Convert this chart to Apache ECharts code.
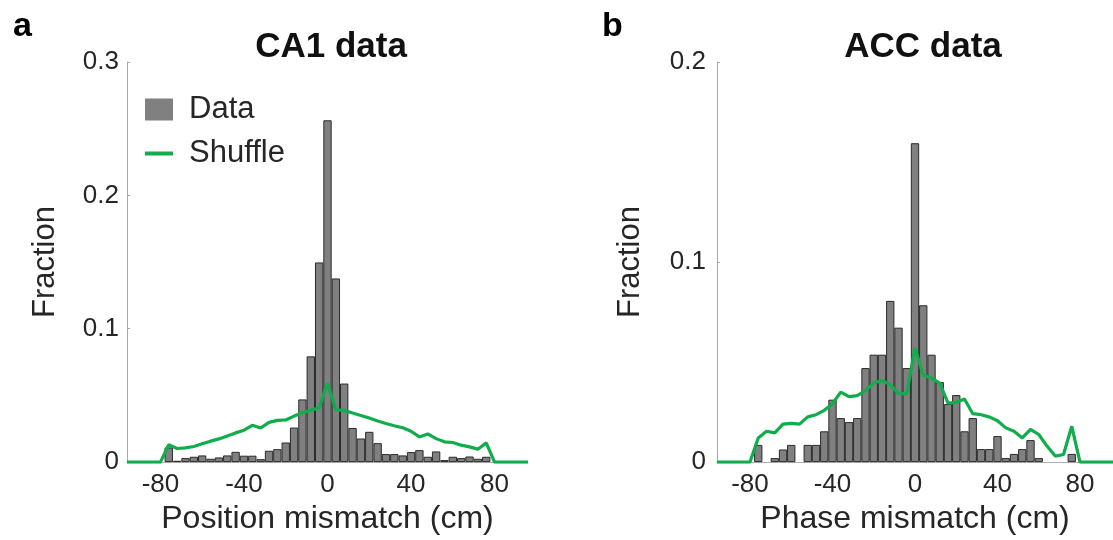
<!DOCTYPE html>
<html>
<head>
<meta charset="utf-8">
<script src="https://cdn.jsdelivr.net/npm/echarts@6/dist/echarts.min.js"></script>
<style>html,body{margin:0;padding:0;background:#fff}#c{width:1113px;height:540px}</style>
</head>
<body>
<div id="c"></div>
<script>
// ---- data ----
const xTickValues = [-80, -40, 0, 40, 80];
const binCenters = [-76,-72,-68,-64,-60,-56,-52,-48,-44,-40,-36,-32,-28,-24,-20,-16,-12,-8,-4,0,4,8,12,16,20,24,28,32,36,40,44,48,52,56,60,64,68,72,76];
const shuffleX = [-96,-92,-88,-84,-80,-76,-72,-68,-64,-60,-56,-52,-48,-44,-40,-36,-32,-28,-24,-20,-16,-12,-8,-4,0,4,8,12,16,20,24,28,32,36,40,44,48,52,56,60,64,68,72,76,80,84,88,92,96];

const ca1Data = [0.011,0.001,0.003,0.004,0.005,0.0025,0.0035,0.005,0.0077,0.0048,0.0048,0.0022,0.0085,0.0097,0.0147,0.0259,0.047,0.0793,0.1497,0.2563,0.1377,0.0589,0.0256,0.0177,0.0227,0.0142,0.006,0.006,0.005,0.0075,0.009,0.004,0.008,0.0015,0.004,0.003,0.0042,0.0025,0.004];
const ca1Shuffle = [0,0,0,0,0,0.013,0.0102,0.0107,0.0117,0.0137,0.0157,0.0174,0.0196,0.0219,0.0239,0.0276,0.0256,0.0298,0.0313,0.0316,0.0345,0.037,0.0388,0.0407,0.0592,0.0392,0.0388,0.0368,0.035,0.033,0.0308,0.029,0.0273,0.0258,0.0231,0.0189,0.0211,0.0176,0.0152,0.0147,0.0127,0.0114,0.0097,0.0144,0,0,0,0,0];

const accData = [0.0086,0,0.002,0.0063,0.0086,0,0.0086,0.0086,0.0154,0.0312,0.022,0.020,0.022,0.047,0.0537,0.0537,0.0806,0.0672,0.047,0.1594,0.0784,0.0537,0.040,0.029,0.0335,0.0154,0.022,0.0065,0.0065,0.013,0.002,0.0041,0.0065,0.011,0.002,0,0,0,0.0041];
const accShuffle = [0,0,0,0,0,0.0121,0.0154,0.0146,0.019,0.0194,0.019,0.0226,0.0237,0.0259,0.0292,0.035,0.0327,0.0332,0.0358,0.0395,0.0408,0.0386,0.0342,0.0342,0.0571,0.0433,0.042,0.0395,0.0295,0.0299,0.0315,0.0242,0.0237,0.0226,0.0207,0.0171,0.0154,0.0121,0.0164,0.0138,0.008,0.003,0.0038,0.0179,0,0,0,0,0];

const titles = ['CA1 data', 'ACC data'];
const xNames = ['Position mismatch (cm)', 'Phase mismatch (cm)'];
const yMaxes = [0.3, 0.2];
const panelLetters = ['a', 'b'];

// ---- layout / style ----
const FONT = '"Liberation Sans", Arial, Helvetica, sans-serif';
const TXT = '#262626';
const GREEN = '#0fad4c';
const BAR = '#808080';
const X_MIN = -96, X_MAX = 96, BIN_W = 4;
const grids = [
  {left: 127, top: 62, width: 401, height: 402},
  {left: 717, top: 62, width: 400, height: 402}
];

function pairs(xs, ys, skipZero) {
  return xs.map((x, i) => [x, (skipZero && ys[i] === 0) ? '-' : ys[i]]);
}

const chart = echarts.init(document.getElementById('c'), null, {renderer: 'canvas'});

const xAxes = grids.map((g, i) => ({
  type: 'value', gridIndex: i, min: X_MIN, max: X_MAX,
  axisLine: {show: true, onZero: false, lineStyle: {color: '#b0b0b0', width: 1}},
  axisTick: {show: false},
  splitLine: {show: false},
  axisLabel: {customValues: xTickValues, color: TXT, fontSize: 26, fontFamily: FONT, margin: 10},
  name: xNames[i], nameLocation: 'middle', nameGap: 36,
  nameTextStyle: {color: TXT, fontSize: 32, fontFamily: FONT}
}));
const yAxes = grids.map((g, i) => ({
  type: 'value', gridIndex: i, min: 0, max: yMaxes[i], interval: 0.1,
  axisLine: {show: true, onZero: false, lineStyle: {color: '#a8a8a8', width: 1}},
  axisTick: {show: true, inside: true, length: 3, lineStyle: {color: '#a8a8a8'}},
  splitLine: {show: false},
  axisLabel: {color: TXT, fontSize: 26, fontFamily: FONT, margin: i === 0 ? 8 : 11},
  name: 'Fraction', nameLocation: 'middle', nameRotate: 90, nameGap: i === 0 ? 66 : 71,
  nameTextStyle: {color: TXT, fontSize: 31, fontFamily: FONT}
}));

function barWidthPx(g) { return g.width * BIN_W / (X_MAX - X_MIN); }

const option = {
  animation: false,
  backgroundColor: '#fff',
  grid: grids.map(g => Object.assign({containLabel: false}, g)),
  title: [
    {text: titles[0], left: 326, top: 25, textAlign: 'center', textStyle: {fontSize: 35, fontWeight: 'bold', color: '#111', fontFamily: FONT}},
    {text: titles[1], left: 918, top: 25, textAlign: 'center', textStyle: {fontSize: 35, fontWeight: 'bold', color: '#111', fontFamily: FONT}},
    {text: panelLetters[0], left: 8, top: 5, textStyle: {fontSize: 34, fontWeight: 'bold', color: '#000', fontFamily: FONT}},
    {text: panelLetters[1], left: 597, top: 5, textStyle: {fontSize: 34, fontWeight: 'bold', color: '#000', fontFamily: FONT}}
  ],
  legend: {
    left: 143, top: 94, orient: 'vertical', padding: 0,
    itemWidth: 28, itemHeight: 22, itemGap: 13,
    textStyle: {color: TXT, fontSize: 31, fontFamily: FONT, padding: [0, 0, 0, 11]},
    data: [
      {name: 'Data', icon: 'rect', itemStyle: {color: BAR, borderWidth: 0}},
      {name: 'Shuffle', itemStyle: {color: 'rgba(0,0,0,0)', borderWidth: 0, opacity: 0}, lineStyle: {color: GREEN, width: 4}}
    ]
  },
  xAxis: xAxes,
  yAxis: yAxes,
  series: [
    {name: 'Data', type: 'bar', xAxisIndex: 0, yAxisIndex: 0, barWidth: barWidthPx(grids[0]),
     itemStyle: {color: BAR, borderColor: '#2a2a2a', borderWidth: 1}, data: pairs(binCenters, ca1Data, true), z: 2},
    {name: 'Shuffle', type: 'line', xAxisIndex: 0, yAxisIndex: 0, symbol: 'none',
     lineStyle: {color: GREEN, width: 3.2}, itemStyle: {color: GREEN}, data: pairs(shuffleX, ca1Shuffle, false), z: 3},
    {name: 'Data2', type: 'bar', xAxisIndex: 1, yAxisIndex: 1, barWidth: barWidthPx(grids[1]),
     itemStyle: {color: BAR, borderColor: '#2a2a2a', borderWidth: 1}, data: pairs(binCenters, accData, true), z: 2},
    {name: 'Shuffle2', type: 'line', xAxisIndex: 1, yAxisIndex: 1, symbol: 'none',
     lineStyle: {color: GREEN, width: 3.2}, itemStyle: {color: GREEN}, data: pairs(shuffleX, accShuffle, false), z: 3}
  ]
};
chart.setOption(option);
</script>
</body>
</html>
